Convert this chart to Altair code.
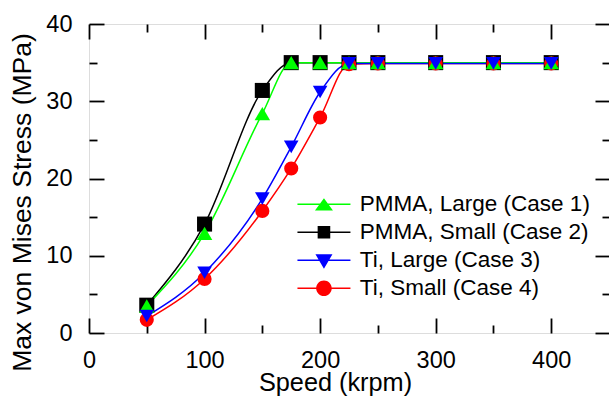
import altair as alt
import pandas as pd

# ---- data ----
speed = [50, 100, 150, 175, 200, 225, 250, 300, 350, 400]
case1 = [3.5, 12.9, 28.4, 35.0, 35.0, 35.0, 35.0, 35.0, 35.0, 35.0]   # PMMA, Large
case2 = [3.6, 14.1, 31.4, 35.0, 35.0, 35.0, 35.0, 35.0, 35.0, 35.0]   # PMMA, Small
case3 = [2.2, 7.8, 17.4, 24.1, 31.2, 34.9, 34.9, 34.9, 34.9, 34.9]    # Ti, Large
case4 = [1.7, 7.0, 15.8, 21.3, 27.9, 34.8, 34.9, 34.9, 34.9, 34.9]    # Ti, Small

labels = ["PMMA, Large (Case 1)", "PMMA, Small (Case 2)",
          "Ti, Large (Case 3)", "Ti, Small (Case 4)"]
series_values = [case1, case2, case3, case4]
colors = ["#00ff00", "#000000", "#0000ff", "#ff0000"]
shapes = ["triangle-up", "square", "triangle-down", "circle"]
sizes = [240, 200, 270, 200]
draw_order = [1, 3, 0, 2]  # black, red, green, blue (blue on top)

x_major = [0, 100, 200, 300, 400]
x_minor = [50, 150, 250, 350]
y_major = [0, 10, 20, 30, 40]
y_minor = [5, 15, 25, 35]

rows = []
for i in draw_order:
    for s, v in zip(speed, series_values[i]):
        rows.append({"speed": s, "stress": v, "series": labels[i]})
df = pd.DataFrame(rows)

# legend symbols: line segment + marker (unit-square custom paths)
line_path = "M-2.65,-0.075L2.65,-0.075L2.65,0.075L-2.65,0.075Z"
marker_paths = [
    "M0,-0.6L0.9,0.62L-0.9,0.62Z",
    "M-0.63,-0.63L0.63,-0.63L0.63,0.63L-0.63,0.63Z",
    "M-0.85,-0.6L0.85,-0.6L0,0.85Z",
    "M-0.78,0A0.78,0.78,0,1,1,0.78,0A0.78,0.78,0,1,1,-0.78,0Z",
]
legend_paths = [line_path + m for m in marker_paths]

FONT = "Liberation Sans"
xs = alt.Scale(domain=[0, 450], nice=False, zero=False)
ys = alt.Scale(domain=[0, 40], nice=False, zero=False)
cscale = alt.Scale(domain=labels, range=colors)

tick_common = dict(domain=False, grid=False, tickColor="black", tickWidth=1.8,
                   labelFont=FONT, labelColor="black", labelFlush=False,
                   labelOverlap=False)

ax_bottom = alt.Axis(values=x_major, orient="bottom", offset=-15, tickSize=15,
                     labelPadding=15, labelFontSize=23.5,
                     title="Speed (krpm)", titleFont=FONT, titleFontSize=25.3,
                     titleFontWeight="normal", titleColor="black",
                     titleX=246, titleY=72.5, titleAlign="center",
                     titleBaseline="alphabetic", **tick_common)
ax_bottom_minor = alt.Axis(values=x_minor, orient="bottom", offset=-8, tickSize=8,
                           labels=False, title=None, **tick_common)
ax_top = alt.Axis(values=x_major, orient="top", offset=-15, tickSize=15,
                  labels=False, title=None, **tick_common)
ax_top_minor = alt.Axis(values=x_minor, orient="top", offset=-8, tickSize=8,
                        labels=False, title=None, **tick_common)

ax_left = alt.Axis(values=y_major, orient="left", offset=-15, tickSize=15,
                   labelPadding=17, labelFontSize=23.5,
                   title="Max von Mises Stress (MPa)", titleFont=FONT,
                   titleFontSize=26.5, titleFontWeight="normal", titleColor="black",
                   titleAngle=270, titleX=-73.3, titleY=178, titleAlign="center",
                   titleBaseline="alphabetic", **tick_common)
ax_left_minor = alt.Axis(values=y_minor, orient="left", offset=-8, tickSize=8,
                         labels=False, title=None, **tick_common)
ax_right = alt.Axis(values=y_major, orient="right", offset=-14, tickSize=14,
                    labels=False, title=None, **tick_common)
ax_right_minor = alt.Axis(values=y_minor, orient="right", offset=-7, tickSize=7,
                          labels=False, title=None, **tick_common)

base = alt.Chart(df)

lines = base.mark_line(interpolate="monotone", strokeWidth=1.5).encode(
    x=alt.X("speed:Q", scale=xs, axis=ax_bottom),
    y=alt.Y("stress:Q", scale=ys, axis=ax_left),
    color=alt.Color("series:N", scale=cscale, legend=None),
)

points = base.mark_point(filled=True, opacity=1).encode(
    x=alt.X("speed:Q", scale=xs, axis=ax_bottom_minor),
    y=alt.Y("stress:Q", scale=ys, axis=ax_left_minor),
    color=alt.Color("series:N", scale=cscale, legend=None),
    shape=alt.Shape("series:N", scale=alt.Scale(domain=labels, range=shapes), legend=None),
    size=alt.Size("series:N", scale=alt.Scale(domain=labels, range=sizes), legend=None),
)

leg = dict(orient="none", legendX=223.7, legendY=169, title=None,
           labelFont=FONT, labelFontSize=22.5, labelColor="black",
           labelLimit=500, labelOffset=24.6, symbolSize=400, symbolOpacity=1,
           symbolStrokeWidth=0, rowPadding=5, padding=0)

legend_layer = base.mark_point(filled=True, opacity=0).encode(
    x=alt.X("speed:Q", scale=xs, axis=ax_top),
    y=alt.Y("stress:Q", scale=ys, axis=ax_right),
    color=alt.Color("series:N", scale=cscale, legend=alt.Legend(**leg)),
    shape=alt.Shape("series:N", scale=alt.Scale(domain=labels, range=legend_paths),
                    legend=alt.Legend(**leg)),
)

extra_axes = base.mark_point(opacity=0).encode(
    x=alt.X("speed:Q", scale=xs, axis=ax_top_minor),
    y=alt.Y("stress:Q", scale=ys, axis=ax_right_minor),
)

chart = alt.layer(lines, points, legend_layer, extra_axes).resolve_scale(
    color="independent", shape="independent", size="independent"
).resolve_axis(
    x="independent", y="independent"
).properties(
    width=520, height=309,
    autosize=alt.AutoSizeParams(type="none"),
    padding={"left": 89, "top": 24, "right": 0, "bottom": 65},
).configure_view(
    stroke="black", strokeWidth=2
).configure(background="white")

chart.save("out.html", embed_options={"renderer": "svg", "actions": False})
